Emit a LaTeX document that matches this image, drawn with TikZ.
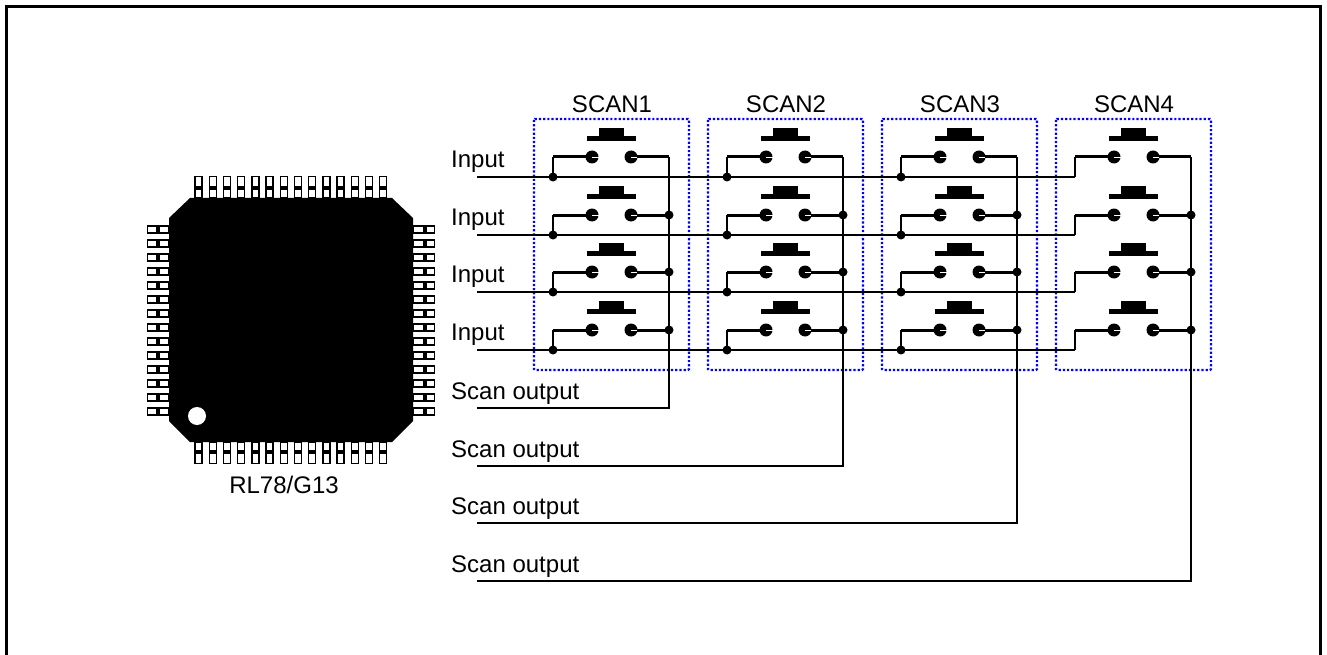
\documentclass[tikz,border=0pt]{standalone}
\usepackage{fontspec}
\setmainfont{Liberation Sans}
\tikzset{
    lbl/.style={font=\fontsize{24}{24}\selectfont,inner sep=0pt},
    contact/.style={circle,fill=black,inner sep=0pt,minimum size=13pt},
    joint/.style={circle,fill=black,inner sep=0pt,minimum size=9pt},
    wire/.style={line width=1.6pt},
    lead/.style={line width=3pt},
    scanbox/.style={blue,line width=2.2pt,dotted,rounded corners=1pt},
    pin/.style={draw=black,fill=white,line width=1.4pt}
}
\begin{document}
\begin{tikzpicture}[x=1pt,y=-1pt]
    \useasboundingbox (0,0) rectangle (1327,655);
    % frame
    \draw[line width=3pt] (6.5,655) -- (6.5,6.5) -- (1320.5,6.5) -- (1320.5,655);
    % chip
    \foreach \n in {0,...,13}{
        \pgfmathsetmacro{\a}{198.5+14.2*\n}
        \pgfmathsetmacro{\b}{229.5+14*\n}
        \draw[pin] (\a-3.5,176.5) rectangle (\a+3.5,198);
        \fill (\a-3.5,186) rectangle (\a+3.5,190.5);
        \draw[pin] (\a-3.5,442) rectangle (\a+3.5,463.5);
        \fill (\a-3.5,450) rectangle (\a+3.5,454);
        \draw[pin] (147.5,\b-3.5) rectangle (169,\b+3.5);
        \fill (156,\b-3.5) rectangle (160,\b+3.5);
        \draw[pin] (413,\b-3.5) rectangle (434.5,\b+3.5);
        \fill (423,\b-3.5) rectangle (427,\b+3.5);
    }
    \fill (190,198) -- (392,198) -- (413,218) -- (413,421) -- (392,442) -- (190,442) -- (169,421) -- (169,218) -- cycle;
    \fill[white] (197,416) circle (9);
    \node[lbl] (chip) at (284,485) {RL78/G13};
    % switch matrix
    \foreach \c/\cx in {1/0,2/174,3/348,4/522}{
        \draw[scanbox] (534+\cx,119) rectangle (689+\cx,370);
        \node[lbl] (scan\c) at (612+\cx,104) {SCAN\c};
        \foreach \r/\ry in {1/0,2/58,3/115,4/173}{
            \fill (587+\cx,136+\ry) rectangle (636+\cx,141+\ry);
            \fill (599+\cx,128+\ry) rectangle (624+\cx,136+\ry);
            \node[contact] (l\c\r) at (592+\cx,157+\ry) {};
            \node[contact] (r\c\r) at (631+\cx,157+\ry) {};
            \coordinate (k\c\r) at (553+\cx,157+\ry);
            \coordinate (t\c\r) at (553+\cx,177+\ry);
            \coordinate (v\c\r) at (669+\cx,157+\ry);
            \draw[lead] (k\c\r) -- (l\c\r.center);
            \draw[lead] (r\c\r.center) -- (v\c\r);
            \draw[wire] (k\c\r) -- (t\c\r);
            \draw[white,line width=0.8pt] (l\c\r.center) -- (l\c\r.east);
            \draw[white,line width=0.8pt] (r\c\r.center) -- +(6,0);
            \ifnum\c<4 \node[joint] at (t\c\r) {}; \fi
            \ifnum\r>1 \node[joint] at (v\c\r) {}; \fi
        }
    }
    % input lines
    \foreach \r/\ry in {1/0,2/58,3/115,4/173}{
        \node[lbl,anchor=west] (in\r) at (451,162+\ry) {Input};
        \coordinate (s\r) at (477,177+\ry);
        \draw[wire] (s\r) -- (t4\r);
    }
    % scan lines
    \foreach \c/\cx/\sy in {1/0/408,2/174/466,3/348/523,4/522/581}{
        \node[lbl,anchor=west] (out\c) at (451,\sy-14) {Scan output};
        \coordinate (o\c) at (477,\sy);
        \coordinate (e\c) at (669+\cx,\sy);
        \draw[wire] (o\c) -- (e\c) -- (v\c1);
    }
\end{tikzpicture}
\end{document}
